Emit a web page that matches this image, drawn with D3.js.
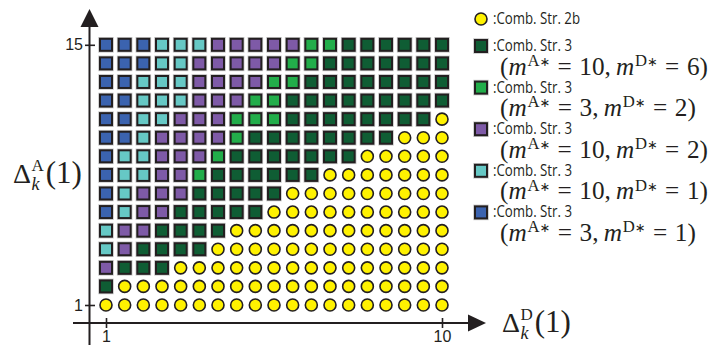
<!DOCTYPE html>
<html>
<head>
<meta charset="utf-8">
<script src="https://cdn.jsdelivr.net/npm/d3@7"></script>
<style>
  html, body { margin: 0; padding: 0; background: #fff; }
  svg { display: block; }
</style>
</head>
<body>
<svg id="chart" width="714" height="345"></svg>
<script>
// Grid of parameter values: Delta_k^D(1) along x, Delta_k^A(1) along y
const xValues = [1, 1.5, 2, 2.5, 3, 3.5, 4, 4.5, 5, 5.5, 6, 6.5, 7, 7.5, 8, 8.5, 9, 9.5, 10];
const yValues = [15, 14, 13, 12, 11, 10, 9, 8, 7, 6, 5, 4, 3, 2, 1];

// Best strategy at each grid cell, one string per row (y = 15 down to 1), one letter per x value
// Y: Comb. Str. 2b, D: Str. 3 (10,6), G: Str. 3 (3,2), P: Str. 3 (10,2), C: Str. 3 (10,1), B: Str. 3 (3,1)
const strategyRows = [
  "BBBCCCPPPPPGGDDDDDD",
  "BBBCCPPPPPGGDDDDDDD",
  "BBCCCPPPPGGDDDDDDDD",
  "BBCCCPPPGGDDDDDDDDD",
  "BBCCPPPGGGDDDDDDDDY",
  "BBCPPPPGDDDDDDDDYYY",
  "BCCPPPGDDDDDDDYYYYY",
  "BCCPPGDDDDDDYYYYYYY",
  "BCPPPDDDDDYYYYYYYYY",
  "BCPPDDDDDYYYYYYYYYY",
  "CPPDDDDYYYYYYYYYYYY",
  "CPDDDDYYYYYYYYYYYYY",
  "PDDDYYYYYYYYYYYYYYY",
  "DYYYYYYYYYYYYYYYYYY",
  "YYYYYYYYYYYYYYYYYYY"
];

const strategyCodes = ["Y", "D", "G", "P", "C", "B"];
const strategyNames = [":Comb. Str. 2b", ":Comb. Str. 3", ":Comb. Str. 3", ":Comb. Str. 3", ":Comb. Str. 3", ":Comb. Str. 3"];
const mA = [null, 10, 3, 10, 10, 3];
const mD = [null, 6, 2, 2, 1, 1];
const xTicks = [1, 10];
const yTicks = [1, 15];

const colors = { Y: "#fff200", D: "#0f5d34", G: "#22ad4a", P: "#7e5aa7", C: "#66c8c5", B: "#3b63af" };
const ink = "#231f20";

const svg = d3.select("#chart");

const x = d3.scaleLinear().domain([1, 10]).range([106, 442]);
const y = d3.scaleLinear().domain([1, 15]).range([305, 44.8]);

// flatten grid into cells
const cells = [];
strategyRows.forEach((row, i) => {
  row.split("").forEach((code, j) => {
    cells.push({ x: xValues[j], y: yValues[i], code });
  });
});

// axis lines with arrowheads
const axes = svg.append("g");
axes.append("line").attr("x1", 73).attr("x2", 470).attr("y1", 323).attr("y2", 323)
  .attr("stroke", ink).attr("stroke-width", 2);
axes.append("path").attr("d", "M468,314.5 L486,323 L468,331.5 Z").attr("fill", ink);
axes.append("line").attr("x1", 89.5).attr("x2", 89.5).attr("y1", 345).attr("y2", 25)
  .attr("stroke", ink).attr("stroke-width", 2);
axes.append("path").attr("d", "M80.5,27 L89.5,9 L98.5,27 Z").attr("fill", ink);

// tick marks and labels through d3 axes
const xAxis = svg.append("g").attr("transform", "translate(0,318)")
  .call(d3.axisBottom(x).tickValues(xTicks).tickSize(10).tickPadding(3).tickFormat(d3.format("d")));
const yAxis = svg.append("g").attr("transform", "translate(95,0)")
  .call(d3.axisLeft(y).tickValues(yTicks).tickSize(10).tickPadding(2).tickFormat(d3.format("d")));
[xAxis, yAxis].forEach(a => {
  a.select(".domain").remove();
  a.selectAll(".tick line").attr("stroke", ink).attr("stroke-width", 1.6);
  a.selectAll(".tick text").attr("fill", ink).attr("font-family", "Liberation Sans, Arial, sans-serif").attr("font-size", 16);
});

// markers
const marks = svg.append("g");
const squares = cells.filter(d => d.code !== "Y");
const circles = cells.filter(d => d.code === "Y");

function drawSquare(sel, cx, cy, fill) {
  sel.append("rect").attr("x", cx - 7.8).attr("y", cy - 7.8).attr("width", 15.6).attr("height", 15.6)
    .attr("fill", "#c9c9c9");
  sel.append("rect").attr("x", cx - 6).attr("y", cy - 6).attr("width", 12).attr("height", 12)
    .attr("fill", fill).attr("stroke", ink).attr("stroke-width", 2);
}

squares.forEach(d => drawSquare(marks, x(d.x), y(d.y), colors[d.code]));

marks.selectAll("circle").data(circles).join("circle")
  .attr("cx", d => x(d.x)).attr("cy", d => y(d.y)).attr("r", 6)
  .attr("fill", colors.Y).attr("stroke", ink).attr("stroke-width", 1.6);

// axis titles: Delta with stacked superscript / subscript
const serif = "Liberation Serif, Times New Roman, serif";
function deltaLabel(x0, base, sup) {
  const g = svg.append("g").attr("font-family", serif).attr("fill", ink);
  const d = g.append("text").attr("x", x0).attr("y", base).attr("font-size", 28).text("Δ");
  const w = d.node().getComputedTextLength();
  const s = g.append("text").attr("x", x0 + w + 0.5).attr("y", base - 12).attr("font-size", 17).text(sup);
  const k = g.append("text").attr("x", x0 + w + 0.5).attr("y", base + 7).attr("font-size", 18)
    .attr("font-style", "italic").text("k");
  const sw = Math.max(s.node().getComputedTextLength(), k.node().getComputedTextLength());
  g.append("text").attr("x", x0 + w + sw + 2.5).attr("y", base).attr("font-size", 31).text("(1)");
}
deltaLabel(502, 332, "D");
deltaLabel(13, 183, "A");

// legend
const legend = svg.append("g");
const sans = "Open Sans, Liberation Sans, sans-serif";

function formula(g, x0, base, a, dval, targetWidth) {
  const pieces = [
    { t: "(" }, { t: "m", it: true }, { t: "A", sup: true }, { t: "∗", star: true }, { gap: 0.3 }, { t: "=" }, { gap: 0.3 },
    { t: a + "," }, { gap: 0.2 }, { t: "m", it: true }, { t: "D", sup: true }, { t: "∗", star: true }, { gap: 0.3 }, { t: "=" },
    { gap: 0.3 }, { t: dval + ")" }
  ];
  function render(size) {
    const grp = g.append("g").attr("font-family", serif).attr("fill", ink);
    let cx = x0;
    pieces.forEach(p => {
      if (p.gap) { cx += p.gap * size; return; }
      let fs = size, yy = base;
      if (p.sup) { fs = size * 0.66; yy = base - size * 0.34; }
      if (p.star) { fs = size * 0.5; yy = base - size * 0.34; }
      const t = grp.append("text").attr("x", cx).attr("y", yy).attr("font-size", fs).text(p.t);
      if (p.star) t.attr("font-family", "DejaVu Sans, sans-serif");
      if (p.it) t.attr("font-style", "italic");
      cx += t.node().getComputedTextLength() + (p.it ? size * 0.03 : 0);
    });
    return { grp, width: cx - x0 };
  }
  let r = render(23);
  if (targetWidth) {
    const s = 23 * targetWidth / r.width;
    r.grp.remove();
    render(s);
  }
}

strategyCodes.forEach((code, i) => {
  const cy = i === 0 ? 19 : 46 + (i - 1) * 41.6;
  if (code === "Y") {
    legend.append("circle").attr("cx", 481).attr("cy", cy).attr("r", 6)
      .attr("fill", colors.Y).attr("stroke", ink).attr("stroke-width", 1.6);
  } else {
    drawSquare(legend, 481, cy, colors[code]);
  }
  legend.append("text").attr("x", 493).attr("y", cy + 5)
    .attr("font-family", sans).attr("font-size", 16).attr("fill", ink)
    .attr("textLength", code === "Y" ? 87 : 79).attr("lengthAdjust", "spacingAndGlyphs")
    .text(strategyNames[i]);
  if (mA[i] !== null) {
    formula(legend, 500, cy + 28.5, mA[i], mD[i], mA[i] === 10 ? 208 : 196);
  }
});
</script>
</body>
</html>
